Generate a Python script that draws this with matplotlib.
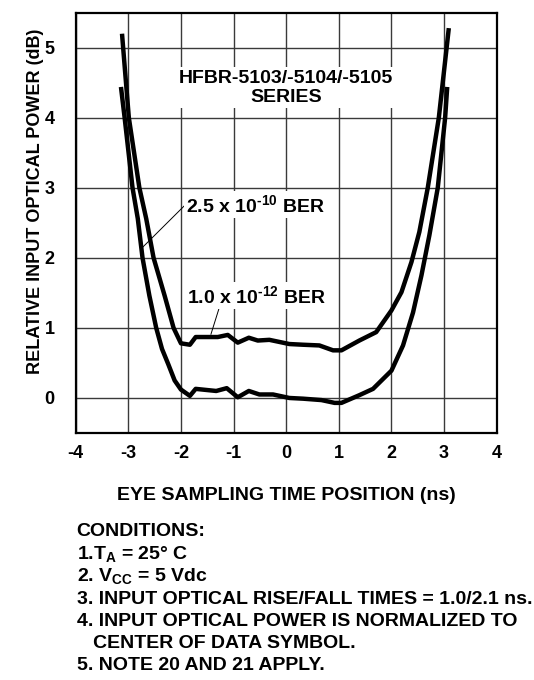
import matplotlib
matplotlib.use('Agg')
import matplotlib.pyplot as plt

plt.rcParams['font.family'] = ['Liberation Sans', 'DejaVu Sans']
plt.rcParams['font.weight'] = 'bold'
plt.rcParams['mathtext.fontset'] = 'custom'
plt.rcParams['mathtext.rm'] = 'Liberation Sans:bold'
plt.rcParams['mathtext.it'] = 'Liberation Sans:bold'
plt.rcParams['mathtext.bf'] = 'Liberation Sans:bold'
plt.rcParams['mathtext.sf'] = 'Liberation Sans:bold'

# ---- data ----
ber12_x = [-3.12, -2.99, -2.79, -2.66, -2.52, -2.31, -2.14, -2.00, -1.83, -1.72, -1.30, -1.11,
           -0.92, -0.71, -0.54, -0.32, 0.06, 0.32, 0.63, 0.89, 1.05, 1.39, 1.71, 2.00, 2.19,
           2.38, 2.53, 2.69, 2.90, 3.09]
ber12_y = [5.20, 4.00, 3.00, 2.56, 2.00, 1.46, 1.00, 0.78, 0.76, 0.87, 0.87, 0.90,
           0.79, 0.86, 0.82, 0.83, 0.77, 0.76, 0.75, 0.68, 0.68, 0.82, 0.94, 1.25, 1.51,
           1.94, 2.37, 3.00, 4.00, 5.28]

ber10_x = [-3.14, -3.07, -2.92, -2.82, -2.73, -2.60, -2.47, -2.36, -2.24, -2.12, -2.00, -1.83,
           -1.72, -1.33, -1.13, -0.92, -0.71, -0.51, -0.25, 0.06, 0.32, 0.67, 0.92, 1.05, 1.39,
           1.65, 2.00, 2.22, 2.41, 2.57, 2.72, 2.88, 3.02, 3.06]
ber10_y = [4.44, 4.00, 3.00, 2.56, 2.00, 1.46, 1.00, 0.70, 0.48, 0.25, 0.12, 0.03,
           0.13, 0.10, 0.14, 0.01, 0.10, 0.05, 0.05, 0.00, -0.01, -0.03, -0.07, -0.07, 0.04,
           0.13, 0.39, 0.75, 1.22, 1.75, 2.32, 3.00, 4.00, 4.44]

x_ticks = [-4, -3, -2, -1, 0, 1, 2, 3, 4]
y_ticks = [0, 1, 2, 3, 4, 5]

series_title = "HFBR-5103/-5104/-5105\nSERIES"
label_ber10 = "2.5 x 10$^{\u201010}$ BER"
label_ber12 = "1.0 x 10$^{\u201012}$ BER"
x_label = "EYE SAMPLING TIME POSITION (ns)"
y_label = "RELATIVE INPUT OPTICAL POWER (dB)"
conditions = [
    "CONDITIONS:",
    r"1.T$_{A}$ = 25° C",
    r"2. V$_{CC}$ = 5 Vdc",
    "3. INPUT OPTICAL RISE/FALL TIMES = 1.0/2.1 ns.",
    "4. INPUT OPTICAL POWER IS NORMALIZED TO",
    "   CENTER OF DATA SYMBOL.",
    "5. NOTE 20 AND 21 APPLY.",
]

W, H = 534, 680
fig = plt.figure(figsize=(W / 100, H / 100), dpi=100)
L, R, T, B = 75.7, 496.7, 12.7, 433.0
ax = fig.add_axes([L / W, 1 - B / H, (R - L) / W, (B - T) / H])

ax.plot(ber12_x, ber12_y, color='black', lw=3.2, solid_joinstyle='round',
        solid_capstyle='butt', zorder=5)
ax.plot(ber10_x, ber10_y, color='black', lw=3.2, solid_joinstyle='round',
        solid_capstyle='butt', zorder=5)

ax.set_xlim(-4, 4)
ax.set_ylim(-0.5, 5.5)
ax.set_xticks(x_ticks)
ax.set_yticks(y_ticks)
ax.set_xticklabels([str(v) for v in x_ticks])
ax.set_yticklabels([str(v) for v in y_ticks])
ax.grid(True, color='#3a3a3a', lw=1.0)
ax.set_axisbelow(True)
ax.tick_params(axis='both', length=0, labelsize=13)
ax.tick_params(axis='x', pad=9)
ax.tick_params(axis='y', pad=15)
for s in ax.spines.values():
    s.set_linewidth(1.6)

bb = dict(boxstyle='square,pad=0.12', fc='white', ec='none')
ax.text(0.0, 4.43, series_title, ha='center', va='center', fontsize=14,
        fontweight='bold', bbox=bb, zorder=4, linespacing=1.15)

# leader lines
ax.plot([-1.90, -2.73], [2.77, 2.15], color='black', lw=0.7, zorder=3)
ax.plot([-1.28, -1.43], [1.27, 0.91], color='black', lw=0.7, zorder=3)
ax.text(-1.90, 2.66, label_ber10, ha='left', va='baseline', fontsize=14,
        fontweight='bold', bbox=bb, zorder=4)
ax.text(-1.88, 1.36, label_ber12, ha='left', va='baseline', fontsize=14,
        fontweight='bold', bbox=bb, zorder=4)

fig.text((L + R) / 2 / W, 1 - 495 / H, x_label, ha='center', va='center',
         fontsize=14, fontweight='bold')
fig.text(36 / W, 1 - 201 / H, y_label, ha='center', va='center', rotation=90,
         fontsize=13, fontweight='bold')

ys = [531.7, 554.0, 576.5, 599.0, 621.0, 643.5, 665.7]
for line, yy in zip(conditions, ys):
    fig.text(76.7 / W, 1 - yy / H, line, ha='left', va='center', fontsize=14,
             fontweight='bold')

fig.savefig('out.png', dpi=100)
